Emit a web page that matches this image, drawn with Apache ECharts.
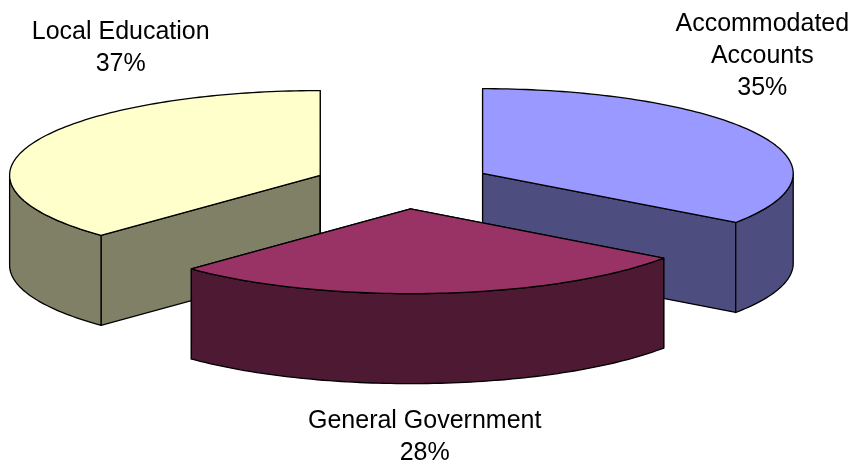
<!DOCTYPE html>
<html>
<head>
<meta charset="utf-8">
<style>html,body{margin:0;padding:0;background:#fff}#c{width:856px;height:466px}</style>
<script src="https://cdn.jsdelivr.net/npm/echarts@6/dist/echarts.min.js"></script>
</head>
<body>
<div id="c"></div>
<script>
const categories = ['Accommodated\nAccounts', 'General Government', 'Local Education'];
const shares = [34.8, 27.6, 37.49];
const tickLabels = ['35%', '28%', '37%'];
const topColors = ['#9999FF', '#993366', '#FFFFCC'];
const sideColors = ['#4D4D80', '#4D1933', '#808066'];

const GEO = { cx: 403, cy: 184.6, a: 310.6, b: 84.7, depth: 90, explode: 0.2884 };
const LABEL_AT = [[762.3, 56], [424.7, 437], [120.7, 48]];

const chart = echarts.init(document.getElementById('c'), null, { renderer: 'canvas' });
const total = shares.reduce((s, v) => s + v, 0);
const starts = [];
shares.reduce((acc, v, i) => { starts[i] = acc; return acc + v; }, 0);

function pt(c, t, dy) {
  return [c[0] + GEO.a * Math.sin(t), c[1] - GEO.b * Math.cos(t) + (dy || 0)];
}
function arc(c, t0, t1, dy) {
  const n = Math.max(2, Math.ceil(Math.abs(t1 - t0) / 0.02));
  const out = [];
  for (let i = 0; i <= n; i++) out.push(pt(c, t0 + (t1 - t0) * i / n, dy));
  return out;
}
function poly(points, fill) {
  return { type: 'polygon', shape: { points }, style: { fill, stroke: '#000', lineWidth: 1.3, lineJoin: 'round' } };
}
function renderItem(params, api) {
  const i = api.value(0);
  const t0 = api.value(1) / total * 2 * Math.PI;
  const t1 = t0 + api.value(2) / total * 2 * Math.PI;
  const mid = (t0 + t1) / 2;
  const c = [GEO.cx + GEO.a * GEO.explode * Math.sin(mid), GEO.cy - GEO.b * GEO.explode * Math.cos(mid)];
  const d = GEO.depth, top = topColors[i], side = sideColors[i];
  const kids = [];
  [t0, t1].forEach(t => {
    const p = pt(c, t);
    kids.push(poly([c, p, [p[0], p[1] + d], [c[0], c[1] + d]], side));
  });
  // visible outer wall: front half of the ellipse (pi/2 .. 3pi/2)
  const w0 = Math.max(t0, Math.PI / 2), w1 = Math.min(t1, 3 * Math.PI / 2);
  if (w1 > w0) {
    kids.push(poly(arc(c, w0, w1, 0).concat(arc(c, w1, w0, d)), side));
  }
  kids.push(poly([c].concat(arc(c, t0, t1, 0)), top));
  const at = LABEL_AT[i];
  kids.push({
    type: 'text',
    style: {
      x: at[0], y: at[1],
      text: categories[i] + '\n' + tickLabels[i],
      fill: '#000', align: 'center', verticalAlign: 'middle',
      font: '25px "Liberation Sans", Arial, sans-serif', lineHeight: 32
    }
  });
  return { type: 'group', children: kids };
}
// back wedges first, the front wedge last
const order = [0, 2, 1];
chart.setOption({
  animation: false,
  backgroundColor: '#fff',
  series: [{
    type: 'custom',
    coordinateSystem: 'none',
    renderItem,
    silent: true,
    data: order.map(i => [i, starts[i], shares[i]])
  }]
});
</script>
</body>
</html>
